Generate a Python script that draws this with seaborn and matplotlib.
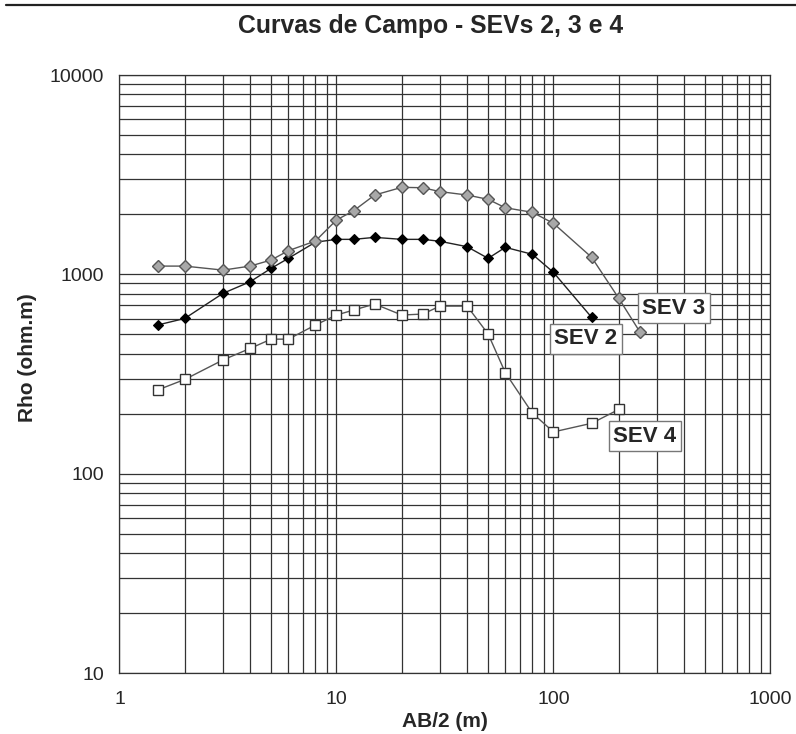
import numpy as np
import pandas as pd
import matplotlib
matplotlib.use("Agg")
import matplotlib.pyplot as plt
from matplotlib.lines import Line2D
import seaborn as sns

# AB/2 spacings (m) and apparent resistivity (ohm.m)
ab2_sev2 = [1.5, 2, 3, 4, 5, 6, 8, 10, 12, 15, 20, 25, 30, 40, 50, 60, 80, 100, 150]
rho_sev2 = [557, 601, 803, 918, 1072, 1203, 1450, 1498, 1498, 1533, 1498, 1498, 1465,
            1376, 1203, 1366, 1260, 1023, 608]

ab2_sev3 = [1.5, 2, 3, 4, 5, 6, 8, 10, 12, 15, 20, 25, 30, 40, 50, 60, 80, 100, 150, 200, 250]
rho_sev3 = [1100, 1100, 1050, 1100, 1180, 1314, 1470, 1873, 2085, 2500, 2732, 2720, 2600,
            2500, 2378, 2158, 2047, 1803, 1217, 758, 515]

ab2_sev4 = [1.5, 2, 3, 4, 5, 6, 8, 10, 12, 15, 20, 25, 30, 40, 50, 60, 80, 100, 150, 200]
rho_sev4 = [263, 297, 372, 425, 473, 473, 557, 625, 662, 710, 625, 632, 693, 693, 502,
            321, 201, 162, 179, 210]

sns.set_style("white")
plt.rcParams['font.family'] = ['Liberation Sans', 'DejaVu Sans']

fig = plt.figure(figsize=(7.96, 7.34), dpi=100)
ax = fig.add_axes([0.1501, 0.0831, 0.8178, 0.8147])
ax.set(xscale='log', yscale='log')

sns.lineplot(x=ab2_sev4, y=rho_sev4, ax=ax, color='#555555', lw=1, marker='s', markersize=7.8,
             markerfacecolor='white', markeredgecolor='#333333', markeredgewidth=1, zorder=4)
sns.lineplot(x=ab2_sev2, y=rho_sev2, ax=ax, color='#222222', lw=1, marker='D', markersize=4.8,
             markerfacecolor='black', markeredgecolor='black', markeredgewidth=0.8, zorder=4)
sns.lineplot(x=ab2_sev3, y=rho_sev3, ax=ax, color='#555555', lw=1, marker='D', markersize=5.8,
             markerfacecolor='#a8a8a8', markeredgecolor='#555555', markeredgewidth=1, zorder=5)

ax.set_xlim(1, 1000)
ax.set_ylim(10, 10000)
ax.grid(True, which='both', color='#333333', lw=0.9)
ax.set_axisbelow(True)
ax.xaxis.set_major_formatter(matplotlib.ticker.FuncFormatter(lambda v, p: f"{v:g}"))
ax.yaxis.set_major_formatter(matplotlib.ticker.FuncFormatter(lambda v, p: f"{v:g}"))
ax.xaxis.set_minor_formatter(matplotlib.ticker.NullFormatter())
ax.yaxis.set_minor_formatter(matplotlib.ticker.NullFormatter())
ax.tick_params(which='major', direction='out', length=4, width=0.9, color='#333333',
               labelsize=14, pad=7)
ax.tick_params(which='minor', length=0)
ax.tick_params(axis='x', pad=9)
for s in ax.spines.values():
    s.set_color('#333333')
    s.set_linewidth(0.9)

ax.set_title("Curvas de Campo - SEVs 2, 3 e 4", fontsize=17.8, fontweight='bold', pad=30, x=0.4785)
ax.set_xlabel("AB/2 (m)", fontsize=15, fontweight='bold')
ax.set_ylabel("Rho (ohm.m)", fontsize=15, fontweight='bold')
ax.xaxis.set_label_coords(0.5, -0.065)
ax.yaxis.set_label_coords(-0.127, 0.528)

box = dict(boxstyle='square,pad=0.2', facecolor='white', edgecolor='#777777', lw=1)
ax.text(359, 677, "SEV 3", fontsize=16, fontweight='bold', ha='center', va='center', bbox=box, zorder=6)
ax.text(141, 474, "SEV 2", fontsize=16, fontweight='bold', ha='center', va='center', bbox=box, zorder=6)
ax.text(264, 154, "SEV 4", fontsize=16, fontweight='bold', ha='center', va='center', bbox=box, zorder=6)

fig.add_artist(Line2D([0.008, 1.0], [0.993, 0.993], color='#222222', lw=1.6))

fig.savefig("out.png", dpi=100)
